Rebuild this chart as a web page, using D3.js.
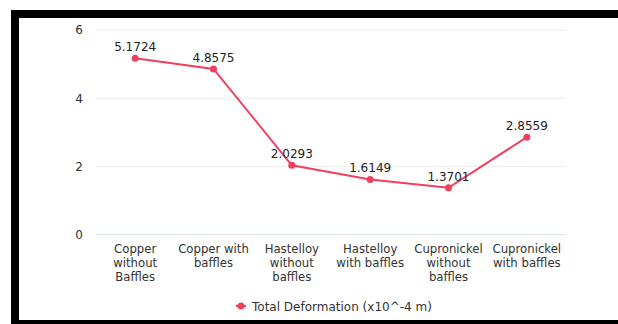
<!DOCTYPE html>
<html>
<head>
<meta charset="utf-8">
<script src="https://cdn.jsdelivr.net/npm/d3@7"></script>
<style>
  html, body { margin: 0; padding: 0; background: #fff; }
  svg { display: block; font-family: "DejaVu Sans", sans-serif; }
</style>
</head>
<body>
<svg id="chart" width="618" height="324"></svg>
<script>
// Total deformation per material / baffle configuration
const categories = [
  ["Copper", "without", "Baffles"],
  ["Copper with", "baffles"],
  ["Hastelloy", "without", "baffles"],
  ["Hastelloy", "with baffles"],
  ["Cupronickel", "without", "baffles"],
  ["Cupronickel", "with baffles"]
];
const values = [5.1724, 4.8575, 2.0293, 1.6149, 1.3701, 2.8559];
const yTicks = [0, 2, 4, 6];
const seriesName = "Total Deformation (x10^-4 m)";

const svg = d3.select("#chart");
const W = 618, H = 324;
const color = "#f23f5f";

// frame
svg.append("rect").attr("x", 0).attr("y", 0).attr("width", W).attr("height", H).attr("fill", "#fff");
svg.append("rect").attr("x", 11).attr("y", 10).attr("width", W - 11).attr("height", 8).attr("fill", "#000");
svg.append("rect").attr("x", 11).attr("y", 10).attr("width", 8).attr("height", H - 10).attr("fill", "#000");
svg.append("rect").attr("x", 11).attr("y", 320).attr("width", W - 11).attr("height", 4).attr("fill", "#000");

const plot = { left: 96, right: 566, top: 30, bottom: 234.5 };

const x = d3.scaleBand()
  .domain(d3.range(categories.length))
  .range([plot.left, plot.right]);

const y = d3.scaleLinear()
  .domain([0, 6])
  .range([plot.bottom, plot.top]);

// grid lines
svg.append("g")
  .selectAll("line")
  .data(yTicks)
  .join("line")
  .attr("x1", plot.left).attr("x2", plot.right)
  .attr("y1", d => y(d)).attr("y2", d => y(d))
  .attr("stroke", d => d === 0 ? "#dbe4f0" : "#ececec")
  .attr("stroke-width", 1);

// y axis labels
const yAxis = d3.axisLeft(y).tickValues(yTicks).tickFormat(d3.format("d")).tickSize(0).tickPadding(13);
const gy = svg.append("g").attr("transform", `translate(${plot.left},0)`).call(yAxis);
gy.select(".domain").remove();
gy.selectAll("text").attr("font-size", 12).attr("fill", "#333").attr("font-family", "DejaVu Sans, sans-serif");

// x axis labels (multi-line)
const xg = svg.append("g");
categories.forEach((lines, i) => {
  const t = xg.append("text")
    .attr("x", x(i) + x.bandwidth() / 2)
    .attr("y", 253)
    .attr("text-anchor", "middle")
    .attr("font-size", 11.7)
    .attr("fill", "#333");
  lines.forEach((ln, j) => {
    t.append("tspan")
      .attr("x", x(i) + x.bandwidth() / 2)
      .attr("dy", j === 0 ? 0 : 14)
      .text(ln);
  });
});

// line
const line = d3.line()
  .x((d, i) => x(i) + x.bandwidth() / 2)
  .y(d => y(d));

svg.append("path")
  .datum(values)
  .attr("d", line)
  .attr("fill", "none")
  .attr("stroke", color)
  .attr("stroke-width", 2);

svg.append("g")
  .selectAll("circle")
  .data(values)
  .join("circle")
  .attr("cx", (d, i) => x(i) + x.bandwidth() / 2)
  .attr("cy", d => y(d))
  .attr("r", 3.5)
  .attr("fill", color);

// value labels
svg.append("g")
  .selectAll("text")
  .data(values)
  .join("text")
  .attr("x", (d, i) => x(i) + x.bandwidth() / 2)
  .attr("y", d => y(d) - 7)
  .attr("text-anchor", "middle")
  .attr("font-size", 12)
  .attr("fill", "#222")
  .text(d => d.toFixed(4));

// legend
const lg = svg.append("g").attr("transform", "translate(241,306)");
lg.append("line").attr("x1", -5).attr("x2", 5).attr("y1", 0).attr("y2", 0)
  .attr("stroke", color).attr("stroke-width", 2);
lg.append("circle").attr("r", 3.5).attr("fill", color);
lg.append("text").attr("x", 11).attr("y", 4.5)
  .attr("font-size", 12).attr("fill", "#333").text(seriesName);
</script>
</body>
</html>
